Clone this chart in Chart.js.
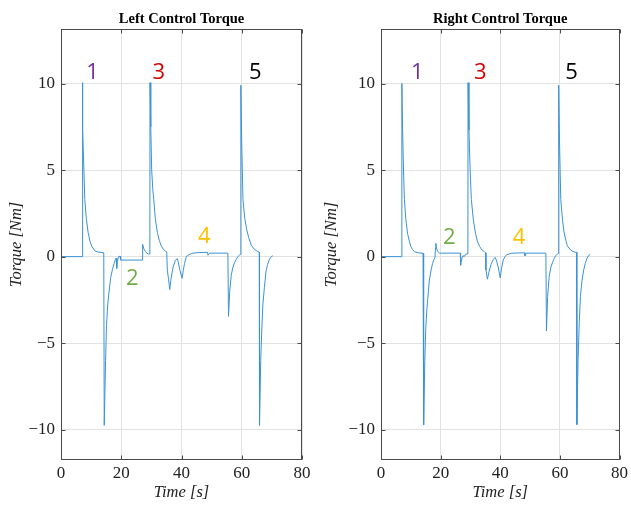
<!DOCTYPE html>
<html><head><meta charset="utf-8">
<script src="https://cdn.jsdelivr.net/npm/chart.js@4.4.0/dist/chart.umd.min.js"></script>
<style>
html,body{margin:0;padding:0;background:#fff;}
#wrap{position:relative;width:631px;height:506px;background:#fff;}
canvas{position:absolute;top:0;}
</style></head><body>
<div id="wrap">
<canvas id="c1" width="315" height="506" style="left:0;width:315px;height:506px"></canvas>
<canvas id="c2" width="316" height="506" style="left:315px;width:316px;height:506px"></canvas>
</div>
<script>
// ---- ticks ----
const xTicks = [0, 20, 40, 60, 80];
const yTicks = [-10, -5, 0, 5, 10];

// ---- titles ----
const leftTitle = 'Left Control Torque';
const rightTitle = 'Right Control Torque';
const xTitle = 'Time [s]';
const yTitle = 'Torque [Nm]';

// ---- left series ----
const leftTime = [0, 7.0, 7.05, 7.3, 7.6, 7.9, 8.4, 9.0, 9.6, 10.2, 11.3, 12.5, 14.2,
  14.35, 14.8, 15.1, 15.5, 15.9, 16.5, 17.1, 17.7, 18.1, 18.3, 18.5, 18.7, 19.1, 19.6, 19.8, 27.0,
  27.1, 27.5, 28.0, 28.5, 29.0, 29.5,
  29.55, 29.8, 30.1, 30.5, 30.8, 31.3, 32.0, 32.6, 33.3, 34.0, 34.7, 35.1,
  35.3, 35.7, 36.1, 36.5, 37.2, 38.0, 38.6, 38.9, 39.5, 40.2, 40.6, 41.0, 41.6, 42.5, 43.8, 45.5, 48.6, 48.8, 49.3, 55.4,
  55.6, 56.0, 56.5, 57.0, 57.6, 58.2, 58.7, 59.3, 59.6,
  59.7, 60.0, 60.4, 61.0, 61.6, 62.3, 63.2, 64.2, 65.2, 65.8,
  65.9, 66.3, 66.7, 67.0, 67.5, 68.1, 68.6, 69.2, 69.8, 70.3];
const leftTorque = [0, 0, 10.05, 7.3, 5.0, 3.3, 2.2, 1.4, 0.9, 0.6, 0.32, 0.26, 0.22,
  -9.75, -6.0, -4.0, -2.8, -2.1, -1.2, -0.73, -0.35, -0.15, -0.08, -0.68, -0.3, 0.0, 0.02, -0.2, -0.2,
  0.71, 0.45, 0.3, 0.2, 0.15, 0.15,
  10.05, 7.5, 5.0, 3.8, 3.3, 2.2, 1.39, 0.95, 0.61, 0.42, 0.32, 0.28,
  -0.8, -1.3, -1.9, -1.3, -0.6, -0.2, -0.12, -0.3, -0.8, -1.25, -0.8, -0.4, 0.0, 0.12, 0.2, 0.23, 0.25, 0.08, 0.2, 0.2,
  -3.45, -2.0, -1.1, -0.65, -0.35, -0.15, 0.0, 0.1, 0.12,
  9.9, 6.5, 3.3, 2.2, 1.6, 1.1, 0.65, 0.42, 0.3, 0.26,
  -9.75, -6.0, -4.0, -2.8, -1.8, -0.8, -0.45, -0.15, 0.0, 0.05];

// ---- right series ----
const rightTime = [0, 6.95, 7.0, 7.25, 7.55, 7.85, 8.3, 8.9, 9.4, 10.0, 10.6, 11.3, 12.5, 14.1,
  14.3, 14.7, 15.0, 15.4, 15.7, 16.2, 16.8, 17.3, 17.7, 18.1, 18.3, 18.4, 18.6, 19.0, 19.6, 26.6,
  26.7, 26.9, 27.3, 27.5, 27.9, 28.2, 28.7, 29.15,
  29.2, 29.5, 29.9, 30.3, 31.0, 31.7, 32.3, 33.1, 33.9, 34.7, 35.1,
  35.2, 35.5, 35.7, 36.2, 36.9, 37.7, 38.3, 38.7, 39.3, 40.0, 40.4, 41.0, 41.6, 42.1, 43.8, 48.1, 48.3, 48.7, 55.3,
  55.5, 55.9, 56.4, 57.0, 57.5, 58.0, 58.6, 59.2, 59.55,
  59.6, 59.9, 60.3, 60.9, 61.4, 62.0, 62.5, 63.5, 64.1, 65.2, 65.6,
  65.7, 66.1, 66.5, 66.9, 67.4, 68.0, 68.5, 69.1, 69.6, 70.2];
const rightTorque = [0, 0, 10.0, 7.3, 5.0, 3.3, 2.2, 1.35, 0.95, 0.58, 0.4, 0.28, 0.22, 0.2,
  -9.73, -6.0, -4.2, -3.0, -2.4, -1.4, -0.77, -0.4, -0.19, -0.05, 0.5, 0.77, 0.5, 0.3, 0.2, 0.2,
  -0.5, -0.3, 0.0, 0.06, 0.0, 0.1, 0.15, 0.15,
  10.05, 7.3, 5.0, 3.3, 2.1, 1.35, 0.9, 0.58, 0.38, 0.29, 0.22,
  -0.77, -1.1, -1.3, -0.9, -0.45, -0.16, -0.05, -0.2, -0.6, -1.23, -0.7, -0.2, 0.0, 0.1, 0.2, 0.22, 0.05, 0.2, 0.2,
  -4.3, -2.3, -1.16, -0.6, -0.35, -0.15, 0.06, 0.15, 0.18,
  9.9, 6.5, 3.3, 2.1, 1.4, 0.95, 0.62, 0.4, 0.32, 0.25, 0.25,
  -9.7, -6.0, -3.8, -2.3, -1.4, -0.77, -0.4, -0.1, 0.05, 0.13];

// ---- phase annotations ----
const noteText = ['1', '3', '5', '2', '4'];
const noteColor = ['#7030A0', '#D60000', '#000000', '#70AD47', '#FFC000'];
const leftNoteX = [10.5, 32.5, 64.5, 23.7, 47.6];
const leftNoteY = [10.6, 10.6, 10.6, -1.27, 1.13];
const rightNoteX = [12.2, 33.3, 63.9, 22.9, 46.3];
const rightNoteY = [10.6, 10.6, 10.6, 1.11, 1.11];

const serif = '"Liberation Serif", "Times New Roman", serif';
const boxColor = '#4a4a4a';

const boxPlugin = {
  id: 'boxPlugin',
  afterDraw(chart, args, opts) {
    const {ctx, chartArea: a, scales: {x, y}} = chart;
    ctx.save();
    ctx.strokeStyle = boxColor;
    ctx.lineWidth = 1;
    const l = Math.round(a.left) + 0.5, r = Math.round(a.right) - 0.5;
    const t = Math.round(a.top) + 0.5, b = Math.round(a.bottom) - 0.5;
    ctx.strokeRect(l, t, r - l, b - t);
    const L = 4;
    ctx.beginPath();
    xTicks.forEach(v => {
      const px = Math.round(x.getPixelForValue(v)) + 0.5;
      ctx.moveTo(px, b); ctx.lineTo(px, b - L);
      ctx.moveTo(px, t); ctx.lineTo(px, t + L);
    });
    yTicks.forEach(v => {
      const py = Math.round(y.getPixelForValue(v)) + 0.5;
      ctx.moveTo(l, py); ctx.lineTo(l + L, py);
      ctx.moveTo(r, py); ctx.lineTo(r - L, py);
    });
    ctx.stroke();
    // annotations
    ctx.font = '22px "Open Sans", "Noto Sans", sans-serif';
    ctx.textAlign = 'center';
    ctx.textBaseline = 'middle';
    opts.noteX.forEach((nx, i) => {
      ctx.fillStyle = noteColor[i];
      ctx.fillText(noteText[i], x.getPixelForValue(nx), y.getPixelForValue(opts.noteY[i]));
    });
    // title
    ctx.fillStyle = '#000';
    ctx.font = 'bold 14.5px ' + serif;
    ctx.textBaseline = 'middle';
    ctx.fillText(opts.title, (a.left + a.right) / 2, a.top - 10);
    ctx.restore();
  }
};

function makeChart(id, times, values, title, noteX, noteY, yWidth, padRight) {
  const pts = times.map((t, i) => ({x: t, y: values[i]}));
  return new Chart(document.getElementById(id), {
    type: 'scatter',
    data: {datasets: [{
      data: pts, showLine: true, borderColor: '#3a92d5', borderWidth: 1,
      pointRadius: 0, tension: 0, fill: false
    }]},
    options: {
      responsive: false, animation: false, devicePixelRatio: 1,
      layout: {padding: {top: 29, right: padRight, left: 0, bottom: 0}},
      plugins: {legend: {display: false}, tooltip: {enabled: false},
        boxPlugin: {title: title, noteX: noteX, noteY: noteY}},
      scales: {
        x: {
          type: 'linear', min: 0, max: 80,
          afterBuildTicks: s => { s.ticks = xTicks.map(v => ({value: v})); },
          afterFit: s => { s.height = 46; },
          grid: {color: '#e2e2e2', drawTicks: false},
          border: {display: false},
          ticks: {color: '#222', font: {family: serif, size: 17}, padding: 3, maxRotation: 0},
          title: {display: true, text: xTitle, color: '#222',
            font: {family: serif, size: 16.5, style: 'italic'}, padding: {top: 0, bottom: 3}}
        },
        y: {
          type: 'linear', min: -11.75, max: 13.15,
          afterBuildTicks: s => { s.ticks = yTicks.map(v => ({value: v})); },
          afterFit: s => { s.width = yWidth; },
          grid: {color: '#e2e2e2', drawTicks: false},
          border: {display: false},
          ticks: {color: '#222', font: {family: serif, size: 17}, padding: 6,
            callback: v => String(v).replace('-', '\u2212')},
          title: {display: true, text: yTitle, color: '#222',
            font: {family: serif, size: 16.5, style: 'italic'}, padding: {top: 7, bottom: 0}}
        }
      }
    },
    plugins: [boxPlugin]
  });
}

makeChart('c1', leftTime, leftTorque, leftTitle, leftNoteX, leftNoteY, 61, 13);
makeChart('c2', rightTime, rightTorque, rightTitle, rightNoteX, rightNoteY, 66, 9);
</script>
</body></html>
